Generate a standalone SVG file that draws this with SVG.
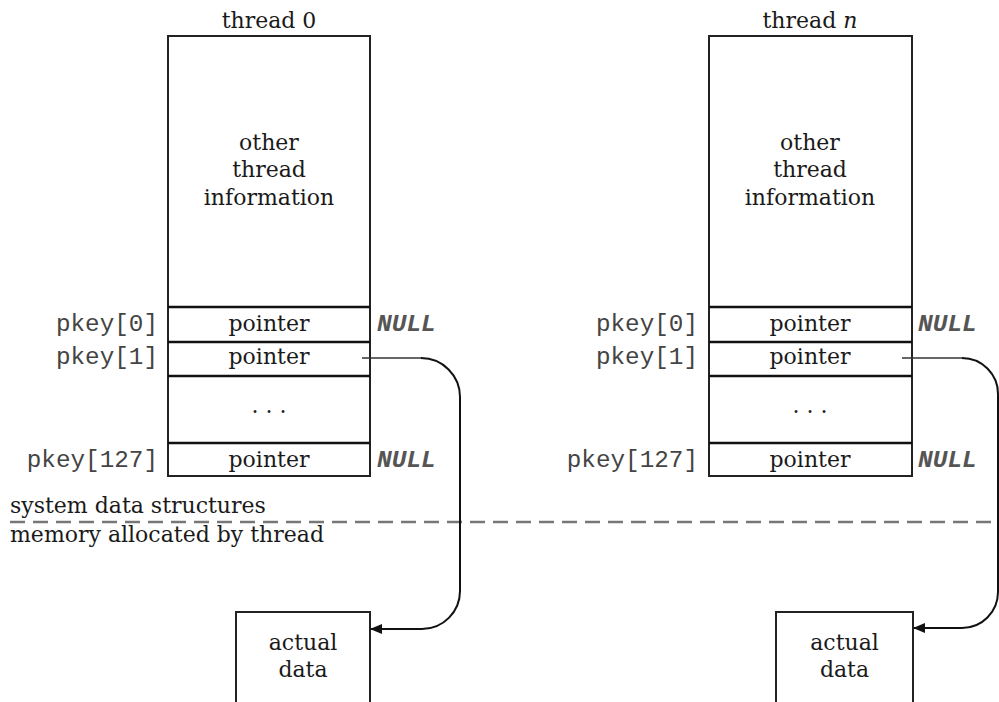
<svg xmlns="http://www.w3.org/2000/svg" width="999" height="702" viewBox="0 0 999 702">
<defs>
<style>
.box{fill:#fff;stroke:#222;stroke-width:2}
.sep{stroke:#111;stroke-width:2.4}
.serif{font-family:"DejaVu Serif","Liberation Serif",serif;font-size:22px;fill:#1a1a1a;text-anchor:middle}
.left{text-anchor:start}
.mono{font-family:"Liberation Mono","DejaVu Sans Mono",monospace;font-size:24.3px;fill:#444;text-anchor:end}
.null{font-family:"Liberation Mono","DejaVu Sans Mono",monospace;font-size:24.5px;font-style:italic;font-weight:bold;fill:#555}
.conn{fill:none;stroke:#111;stroke-width:2}
.thin{fill:none;stroke:#333;stroke-width:1.3}
</style>
<marker id="arr" viewBox="0 0 12 10" refX="11" refY="5" markerWidth="12" markerHeight="10" markerUnits="userSpaceOnUse" orient="auto">
<path d="M0,0 L12,5 L0,10 Z" fill="#111"/>
</marker>
</defs>
<rect width="999" height="702" fill="#fff"/>

<g id="thread0">
<text class="serif" x="269" y="28">thread 0</text>
<rect class="box" x="168" y="36" width="202" height="440"/>
<line class="sep" x1="168" y1="307" x2="370" y2="307"/>
<line class="sep" x1="168" y1="342" x2="370" y2="342"/>
<line class="sep" x1="168" y1="376" x2="370" y2="376"/>
<line class="sep" x1="168" y1="443" x2="370" y2="443"/>
<text class="serif" x="269" y="150">other</text>
<text class="serif" x="269" y="177">thread</text>
<text class="serif" x="269" y="205">information</text>
<text class="serif" x="269" y="331">pointer</text>
<text class="serif" x="269" y="364">pointer</text>
<text class="serif" x="269" y="413">. . .</text>
<text class="serif" x="269" y="467">pointer</text>
<text class="mono" x="158" y="331">pkey[0]</text>
<text class="mono" x="158" y="364">pkey[1]</text>
<text class="mono" x="158" y="467">pkey[127]</text>
<text class="null" x="377" y="331">NULL</text>
<text class="null" x="377" y="467">NULL</text>
</g>

<g id="threadn">
<text class="serif" x="810" y="28">thread <tspan font-style="italic">n</tspan></text>
<rect class="box" x="709" y="36" width="203" height="440"/>
<line class="sep" x1="709" y1="307" x2="912" y2="307"/>
<line class="sep" x1="709" y1="342" x2="912" y2="342"/>
<line class="sep" x1="709" y1="376" x2="912" y2="376"/>
<line class="sep" x1="709" y1="443" x2="912" y2="443"/>
<text class="serif" x="810" y="150">other</text>
<text class="serif" x="810" y="177">thread</text>
<text class="serif" x="810" y="205">information</text>
<text class="serif" x="810" y="331">pointer</text>
<text class="serif" x="810" y="364">pointer</text>
<text class="serif" x="810" y="413">. . .</text>
<text class="serif" x="810" y="467">pointer</text>
<text class="mono" x="698" y="331">pkey[0]</text>
<text class="mono" x="698" y="364">pkey[1]</text>
<text class="mono" x="698" y="467">pkey[127]</text>
<text class="null" x="918" y="331">NULL</text>
<text class="null" x="918" y="467">NULL</text>
</g>

<g id="boundary">
<line x1="10" y1="522" x2="999" y2="522" stroke="#777" stroke-width="2.5" stroke-dasharray="15 8"/>
<text class="serif left" x="10" y="513">system data structures</text>
<text class="serif left" x="10" y="542">memory allocated by thread</text>
</g>

<g id="data0">
<rect class="box" x="236" y="612" width="134" height="100"/>
<text class="serif" x="303" y="650">actual</text>
<text class="serif" x="303" y="677">data</text>
</g>

<g id="datan">
<rect class="box" x="776" y="612" width="137" height="100"/>
<text class="serif" x="844.5" y="650">actual</text>
<text class="serif" x="844.5" y="677">data</text>
</g>

<g id="connectors">
<path class="thin" d="M362,358 H422"/>
<path class="conn" marker-end="url(#arr)" d="M421,358 A39,39 0 0 1 460,397 V591 A38,38 0 0 1 422,629 H371"/>
<path class="thin" d="M902,358 H963"/>
<path class="conn" marker-end="url(#arr)" d="M962,358 A36,36 0 0 1 998,394 V592 A36,36 0 0 1 962,628 H914"/>
</g>
</svg>
